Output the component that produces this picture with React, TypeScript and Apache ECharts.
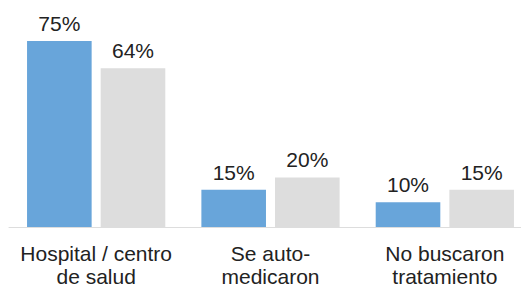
import React, { useEffect, useRef } from "react";
import * as echarts from "echarts";

const categories = ["Hospital / centro\nde salud", "Se auto-\nmedicaron", "No buscaron\ntratamiento"];
const seriesA = [75, 15, 10];
const seriesB = [64, 20, 15];

export default function App() {
  const ref = useRef<HTMLDivElement>(null);
  useEffect(() => {
    const chart = echarts.init(ref.current!, null, { renderer: "svg" });
    const labelStyle = {
      show: true,
      position: "top" as const,
      distance: 7,
      formatter: "{c}%",
      color: "#222",
      fontSize: 21,
      fontFamily: "Liberation Sans, Arial, sans-serif",
    };
    chart.setOption({
      animation: false,
      grid: { left: 9, top: 0, width: 523, height: 227, containLabel: false, outerBoundsMode: "none" },
      xAxis: {
        type: "category",
        data: categories,
        axisLine: { lineStyle: { color: "#dddddd", width: 1 } },
        axisTick: { show: false },
        axisLabel: {
          color: "#222",
          fontSize: 21,
          lineHeight: 23,
          margin: 15,
          fontFamily: "Liberation Sans, Arial, sans-serif",
          interval: 0,
        },
      },
      yAxis: {
        type: "value",
        min: 0,
        max: 91.5,
        show: false,
        splitLine: { show: false },
      },
      series: [
        {
          type: "bar",
          data: seriesA,
          itemStyle: { color: "#68a5da" },
          barGap: "14%",
          barCategoryGap: "20.7%",
          label: labelStyle,
        },
        {
          type: "bar",
          data: seriesB,
          itemStyle: { color: "#dddddd" },
          label: labelStyle,
        },
      ],
    });
    return () => chart.dispose();
  }, []);
  return <div ref={ref} style={{ width: 521, height: 288, position: "absolute", left: 0, top: 0 }} />;
}
